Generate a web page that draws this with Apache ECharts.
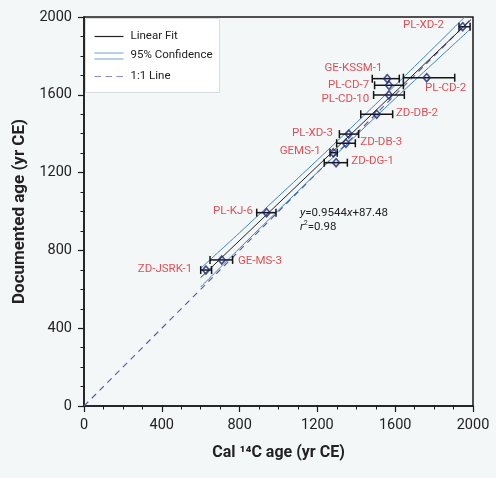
<!DOCTYPE html>
<html><head><meta charset="utf-8">
<script src="https://cdn.jsdelivr.net/npm/echarts@6/dist/echarts.min.js"></script>
<style>html,body{margin:0;padding:0;background:#f4f7f7;}#c{width:496px;height:478px;}</style>
</head><body><div id="c"></div>
<script>
// ---- data ----
const sampleNames = ['PL-XD-2','GE-KSSM-1','PL-CD-2','PL-CD-7','PL-CD-10','ZD-DB-2','PL-XD-3','ZD-DB-3','GEMS-1','ZD-DG-1','PL-KJ-6','GE-MS-3','ZD-JSRK-1'];
const calAge     = [1947,1559,1762,1568,1568,1505,1361,1347,1282,1296, 939, 708, 627];
const calAgeLow  = [1928,1482,1642,1494,1489,1423,1313,1299,1265,1235, 888, 648, 600];
const calAgeHigh = [1985,1621,1906,1642,1647,1587,1412,1395,1302,1354, 987, 764, 656];
const docAge     = [1950,1683,1688,1649,1599,1500,1398,1351,1302,1251, 994, 751, 699];
const fitSlope = 0.9544, fitIntercept = 87.48, fitR2 = 0.98;
const fitRange = [600, 1990];
const bandX     = [600, 800, 1000, 1200, 1400, 1600, 1800, 1990];
const bandUpper = [708, 891, 1078, 1265, 1456, 1649, 1844, 2033];
const bandLower = [612, 811, 1007, 1201, 1392, 1581, 1766, 1941];
const oneToOne = [0, 2000];

// ---- label placement (style only) ----
const labelPlace = {
 'PL-XD-2':['left',18,0],'GE-KSSM-1':['left',4,-9],'PL-CD-2':['right',-1,12],
 'PL-CD-7':['left',19,1],'PL-CD-10':['left',19,5],'ZD-DB-2':['right',20,0],
 'PL-XD-3':['left',15,0],'ZD-DB-3':['right',15,0],'GEMS-1':['left',12,0],
 'ZD-DG-1':['right',16,0],'PL-KJ-6':['left',13,0],'GE-MS-3':['right',17,3],'ZD-JSRK-1':['left',13,0]
};

const FONT = 'Roboto';
const chart = echarts.init(document.getElementById('c'));
const pts = sampleNames.map((n,i)=>{
  const p = labelPlace[n];
  const s = 3.5;
  return {
    name:n, value:[calAge[i], docAge[i]],
    label:{show:true, formatter:n, color:'#d8262e', fontSize:11.5, fontFamily:FONT,
      position: p[0]==='left' ? [s-p[1], s+p[2]] : [s+p[1], s+p[2]],
      align: p[0]==='left' ? 'right':'left', verticalAlign:'middle'}
  };
});
const errData = sampleNames.map((n,i)=>[calAgeLow[i], calAgeHigh[i], docAge[i]]);

const axisCommon = {
  min:0, max:2000, interval:400,
  axisLine:{show:true, onZero:false, lineStyle:{color:'#1a1a1a', width:1.5}},
  axisTick:{show:true, inside:false, length:6, lineStyle:{color:'#1a1a1a', width:1.2}},
  minorTick:{show:true, splitNumber:4, length:3.5, lineStyle:{color:'#1a1a1a', width:1}},
  splitLine:{show:false},
  axisLabel:{color:'#222', fontSize:14.5, fontFamily:FONT, margin:12, formatter:v=>String(v)},
  nameLocation:'middle'
};

chart.setOption({
  backgroundColor:'#f4f7f7',
  animation:false,
  grid:{left:84, right:23, top:17, bottom:72, show:true, borderColor:'#1a1a1a', borderWidth:1.5, backgroundColor:'transparent'},
  xAxis:Object.assign({}, axisCommon, {type:'value', name:'Cal \u00b9\u2074C age (yr CE)', nameGap:39,
    nameTextStyle:{color:'#222', fontSize:16, fontWeight:'bold', fontFamily:FONT}}),
  yAxis:Object.assign({}, axisCommon, {type:'value', name:'Documented age (yr CE)', nameGap:55,
    nameTextStyle:{color:'#222', fontSize:17, fontWeight:'bold', fontFamily:FONT}}),
  series:[
    {type:'line', name:'1:1 Line', data:oneToOne.map(v=>[v,v]), symbol:'none',
     lineStyle:{color:'#5a5cb0', width:1.2, type:[6,5]}, z:1},
    {type:'line', name:'95% Confidence', data:bandX.map((x,i)=>[x,bandUpper[i]]), symbol:'none', smooth:0.4,
     lineStyle:{color:'#3f82c4', width:1}, z:2},
    {type:'line', name:'95% Confidence L', data:bandX.map((x,i)=>[x,bandLower[i]]), symbol:'none', smooth:0.4,
     lineStyle:{color:'#3f82c4', width:1}, z:2},
    {type:'line', name:'Linear Fit', data:fitRange.map(x=>[x, fitSlope*x+fitIntercept]), symbol:'none',
     lineStyle:{color:'#222', width:1}, z:3},
    {type:'custom', name:'err', data:errData, z:4,
     renderItem:function(params, api){
       const a = api.coord([api.value(0), api.value(2)]);
       const b = api.coord([api.value(1), api.value(2)]);
       const h = 4;
       const st = {stroke:'#141414', lineWidth:1.5};
       return {type:'group', children:[
         {type:'line', shape:{x1:a[0],y1:a[1],x2:b[0],y2:b[1]}, style:st},
         {type:'line', shape:{x1:a[0],y1:a[1]-h,x2:a[0],y2:a[1]+h}, style:st},
         {type:'line', shape:{x1:b[0],y1:b[1]-h,x2:b[0],y2:b[1]+h}, style:st}
       ]};
     }},
    {type:'scatter', name:'samples', data:pts, symbol:'diamond', symbolSize:[7,8],
     itemStyle:{color:'rgba(255,255,255,0)', borderColor:'#1c2472', borderWidth:1.6}, z:5}
  ],
  graphic:[
    {type:'group', left:85, top:18, children:[
      {type:'rect', shape:{x:0,y:0,width:134,height:74}, style:{fill:'#ffffff', stroke:'#d9dcdc', lineWidth:1}},
      {type:'line', shape:{x1:9,y1:18,x2:38,y2:18}, style:{stroke:'#222', lineWidth:1.2}},
      {type:'text', x:45, y:18, style:{text:'Linear Fit', fill:'#222', font:'11.5px Roboto', textVerticalAlign:'middle'}},
      {type:'line', shape:{x1:9,y1:34.5,x2:38,y2:34.5}, style:{stroke:'#6aa3d6', lineWidth:1}},
      {type:'line', shape:{x1:9,y1:40.5,x2:38,y2:40.5}, style:{stroke:'#6aa3d6', lineWidth:1}},
      {type:'text', x:45, y:37, style:{text:'95% Confidence', fill:'#222', font:'11.5px Roboto', textVerticalAlign:'middle'}},
      {type:'line', shape:{x1:9,y1:58,x2:38,y2:58}, style:{stroke:'#8d8cc6', lineWidth:1.2, lineDash:[6.5,4.5]}},
      {type:'text', x:45, y:58, style:{text:'1:1 Line', fill:'#222', font:'11.5px Roboto', textVerticalAlign:'middle'}}
    ]},
    {type:'text', left:300, top:206, style:{
      text:'{i|y}=' + fitSlope + '{i|x}+' + fitIntercept + '\n{i|r}{s|2}=' + fitR2,
      rich:{i:{fontStyle:'italic', fontSize:11.5, fontFamily:FONT, fill:'#222'},
            s:{fontSize:7, fontFamily:FONT, verticalAlign:'top', padding:[0,0,6,0]}},
      font:'11.5px Roboto', fill:'#222', lineHeight:14}}
  ]
});
</script></body></html>
